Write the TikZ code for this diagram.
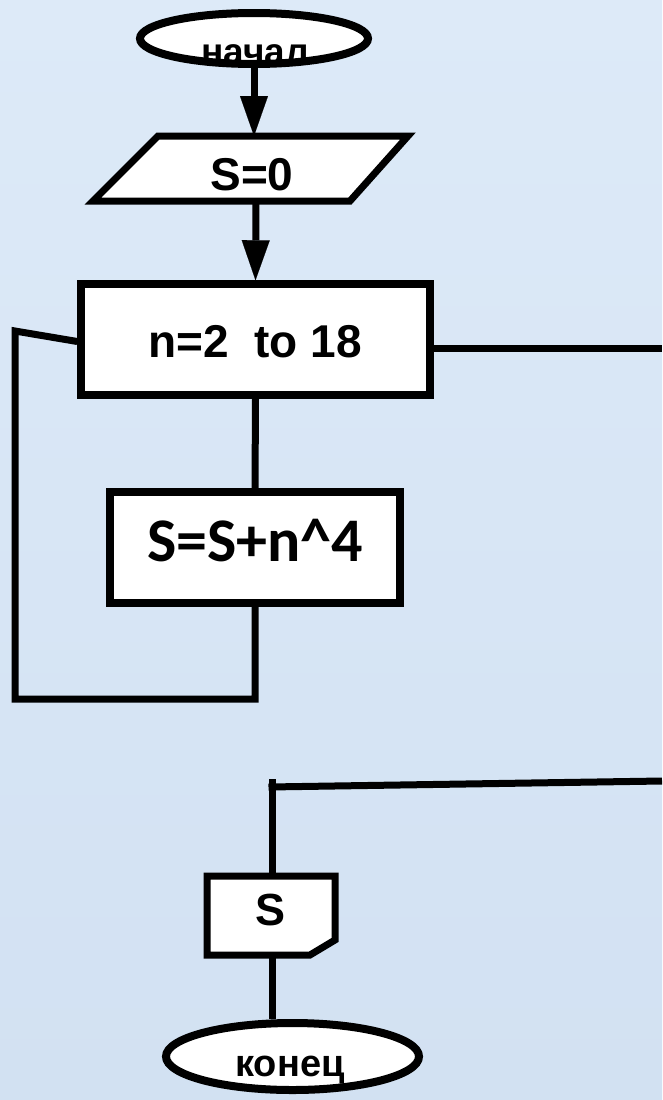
\documentclass[tikz,border=0pt]{standalone}
\usepackage{fontspec}
\setmainfont{Liberation Sans}
\newfontfamily\calib{Carlito}
\usetikzlibrary{arrows.meta,shapes.geometric,calc}
\definecolor{bgtop}{RGB}{221,234,248}
\definecolor{bgbot}{RGB}{210,225,242}
\newcommand{\fsz}[1]{\fontsize{#1}{#1}\selectfont\bfseries}
\begin{document}
\begin{tikzpicture}[x=1pt,y=-1pt,
  conn/.style={line width=7pt},
  arr/.style={conn,-{Triangle[length=40pt,width=28pt,line width=0.1pt]}},
  boxst/.style={draw,fill=white,line width=7.5pt,rectangle,inner sep=0pt},
  term/.style={ellipse,draw,fill=white,line width=8pt,inner sep=0pt},
  txt/.style={inner sep=0pt,anchor=base}]
\useasboundingbox (0,0) rectangle (662,1100);
\shade[top color=bgtop,bottom color=bgbot] (0,0) rectangle (662,1100);

% start terminal
\node[term,minimum width=228pt,minimum height=51pt] (start) at (254,38.5) {};
\node[txt,font=\fsz{37}] (startlbl) at (255,64) {начал};

% input parallelogram
\draw[conn,fill=white,line join=miter] (158,136) -- (408,136) -- (350,201) -- (93,201) -- cycle;
\coordinate (ioT) at (254,136);
\coordinate (ioB) at (256,201);
\node[txt,font=\fsz{46}] (io) at (252,190) {S=0};

% loop box
\node[boxst,minimum width=349pt,minimum height=111pt] (loop) at (255.5,339.5) {};
\node[txt,font=\fsz{46}] (looplbl) at (255,357) {n=2~ to 18};

% body box
\node[boxst,minimum width=290pt,minimum height=111pt] (body) at (255,547.5) {};
\node[txt,font={\calib\fsz{62}}] (bodylbl) at (255,561) {S=S+n\textasciicircum 4};

% output box
\draw[conn,fill=white,line join=miter] (207,876) -- (335,876) -- (335,940) -- (310,955) -- (207,955) -- cycle;
\coordinate (outT) at (272,876);
\coordinate (outB) at (272,955);
\node[txt,font=\fsz{45}] (out) at (271,925) {S};

% end terminal
\node[term,minimum width=253pt,minimum height=67pt] (end) at (292.5,1056.5) {};
\node[txt,font=\fsz{38}] (endlbl) at (290,1076) {конец};

% connectors
\draw[arr] (start.south) -- (ioT);
\draw[arr] (ioB) -- (loop.north);
\draw[conn] (loop.south) -- (body.north);
\coordinate (lp1) at (15,331);
\coordinate (lp2) at (15,699);
\coordinate (lp3) at (255,699);
\draw[conn,line join=miter] ($(loop.west)+(0,2)$) -- (lp1) -- (lp2) -- (lp3) -- (body.south);
\coordinate (rt) at (662,348);
\draw[conn] (loop.east |- rt) -- (rt);
\coordinate (rb) at (662,781);
\coordinate (jn) at (268.5,787);
\coordinate (jtop) at (272,779);
\draw[conn] (rb) -- (jn);
\draw[conn] (jtop) -- (outT);
\draw[conn] (outB) -- (outB |- end.north);
\end{tikzpicture}
\end{document}
